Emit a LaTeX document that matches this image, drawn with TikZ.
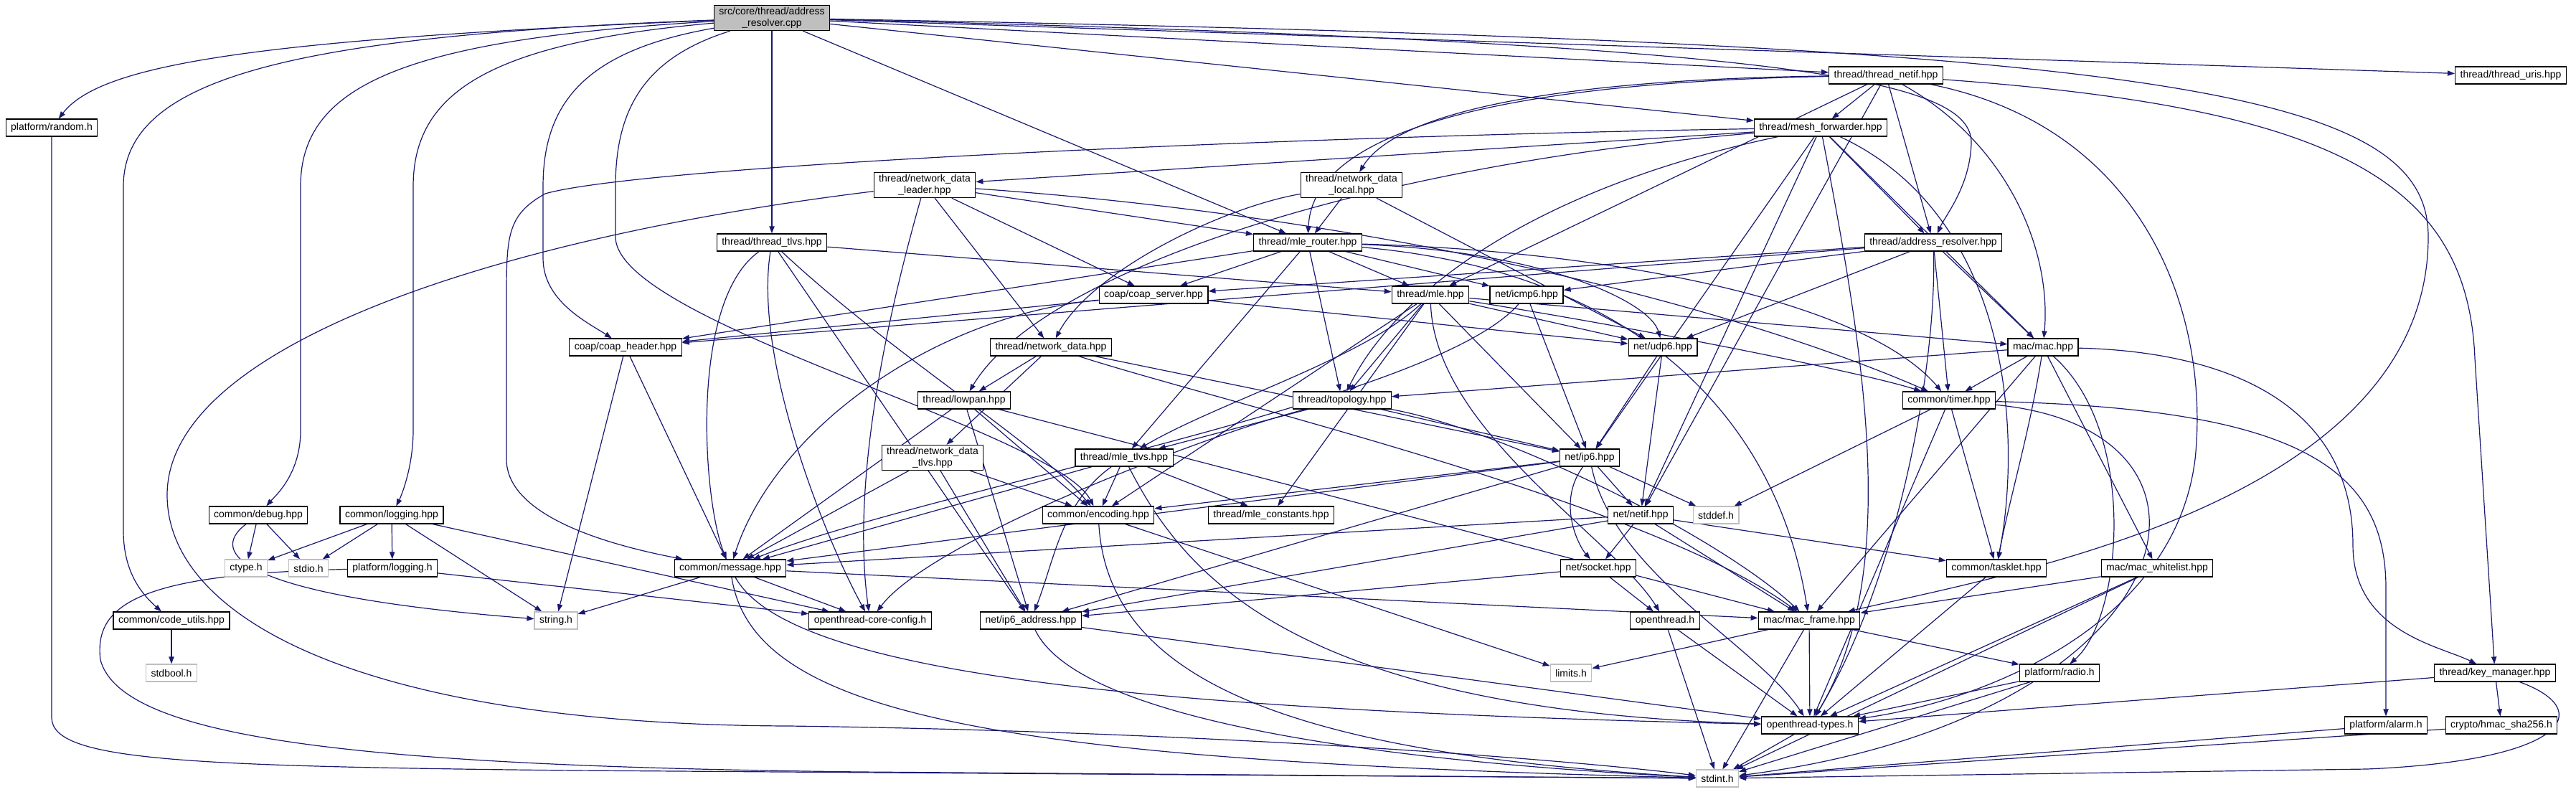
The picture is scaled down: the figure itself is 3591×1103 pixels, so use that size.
\documentclass[tikz,border=0pt]{standalone}
\usepackage{fontspec}
\setmainfont{Liberation Sans}
\usetikzlibrary{arrows.meta}
\definecolor{edgeblue}{HTML}{191970}
\pgfdeclarelayer{edges}
\pgfsetlayers{edges,main}
\begin{document}
\begin{tikzpicture}[
    x=0.5pt, y=-0.5pt,
    box/.style={rectangle, draw=black, line width=0.6pt, fill=white, align=center, inner xsep=3.5pt, inner ysep=1.5pt, minimum height=12pt, font=\fontsize{7}{8}\selectfont},
    sysbox/.style={box, draw=gray!50},
    arrow/.style={-{Triangle[length=5pt,width=3.6pt]}, draw=edgeblue, fill=none, line width=0.6pt}
]
\useasboundingbox (0,0) rectangle (3591,1103);

% File being documented
\node[box, fill=gray!50] (root) at (1076,25) {src/core/thread/address\\\_resolver.cpp};

% Thread layer
\node[box] (random) at (72,178) {platform/random.h};
\node[box] (netifth) at (2629,105) {thread/thread\_netif.hpp};
\node[box] (uris) at (3500,105) {thread/thread\_uris.hpp};
\node[box] (meshfwd) at (2538,178) {thread/mesh\_forwarder.hpp};
\node[box] (ndleader) at (1289,258) {thread/network\_data\\\_leader.hpp};
\node[box] (ndlocal) at (1884,258) {thread/network\_data\\\_local.hpp};
\node[box] (threadtlvs) at (1076,338) {thread/thread\_tlvs.hpp};
\node[box] (mlerouter) at (1823,338) {thread/mle\_router.hpp};
\node[box] (addrres) at (2695,338) {thread/address\_resolver.hpp};
\node[box] (coapserver) at (1608,411) {coap/coap\_server.hpp};
\node[box] (mle) at (1994,411) {thread/mle.hpp};
\node[box] (icmp) at (2128,411) {net/icmp6.hpp};
\node[box] (coapheader) at (872,484) {coap/coap\_header.hpp};
\node[box] (netdata) at (1465,484) {thread/network\_data.hpp};
\node[box] (udp) at (2318,484) {net/udp6.hpp};
\node[box] (mac) at (2848,484) {mac/mac.hpp};
\node[box] (lowpan) at (1344,558) {thread/lowpan.hpp};
\node[box] (topology) at (1871,558) {thread/topology.hpp};
\node[box] (timer) at (2717,558) {common/timer.hpp};
\node[box] (ndtlvs) at (1300,638) {thread/network\_data\\\_tlvs.hpp};
\node[box] (mletlvs) at (1567,638) {thread/mle\_tlvs.hpp};
\node[box] (ip6) at (2216,638) {net/ip6.hpp};

% Common layer
\node[box] (debug) at (360,718) {common/debug.hpp};
\node[box] (logging) at (546,718) {common/logging.hpp};
\node[box] (encoding) at (1531,718) {common/encoding.hpp};
\node[box] (mleconst) at (1772,718) {thread/mle\_constants.hpp};
\node[box] (netif) at (2287,718) {net/netif.hpp};
\node[sysbox] (stddef) at (2392,718) {stddef.h};
\node[sysbox] (ctype) at (343,792) {ctype.h};
\node[sysbox] (stdio) at (430,792) {stdio.h};
\node[box] (platlog) at (547,792) {platform/logging.h};
\node[box] (message) at (1018,792) {common/message.hpp};
\node[box] (socket) at (2228,792) {net/socket.hpp};
\node[box] (tasklet) at (2783,792) {common/tasklet.hpp};
\node[box] (whitelist) at (3007,792) {mac/mac\_whitelist.hpp};
\node[box] (codeutils) at (239,865) {common/code\_utils.hpp};
\node[sysbox] (string) at (775,865) {string.h};
\node[box] (coreconfig) at (1213,865) {openthread-core-config.h};
\node[box] (ip6addr) at (1437,865) {net/ip6\_address.hpp};
\node[box] (othread) at (2321,865) {openthread.h};
\node[box] (macframe) at (2522,865) {mac/mac\_frame.hpp};

% Bottom rows
\node[sysbox] (stdbool) at (239,938) {stdbool.h};
\node[sysbox] (limits) at (2190,938) {limits.h};
\node[box] (radio) at (2871,938) {platform/radio.h};
\node[box] (keymgr) at (3478,938) {thread/key\_manager.hpp};
\node[box] (types) at (2523,1011) {openthread-types.h};
\node[box] (alarm) at (3326,1011) {platform/alarm.h};
\node[box] (hmac) at (3487,1011) {crypto/hmac\_sha256.h};
\node[sysbox] (stdint) at (2394,1085) {stdint.h};

\begin{pgfonlayer}{edges}
% Root includes
\draw[arrow] (root) .. controls (350,55) and (140,90) .. (random);
\draw[arrow] (root) .. controls (400,50) and (172,110) .. (172,260) -- (172,740) .. controls (172,800) and (200,830) .. (codeutils);
\draw[arrow] (root) .. controls (560,55) and (419,120) .. (419,260) -- (419,600) .. controls (419,660) and (385,690) .. (debug);
\draw[arrow] (root) .. controls (680,60) and (576,130) .. (576,260) -- (576,600) .. controls (576,650) and (560,690) .. (logging);
\draw[arrow] (root) .. controls (820,70) and (757,140) .. (757,260) -- (757,360) .. controls (757,420) and (820,450) .. (coapheader);
\draw[arrow] (root) .. controls (900,80) and (858,150) .. (858,260) -- (858,330) .. controls (858,450) and (1470,600) .. (encoding);
\draw[arrow] (root) -- (threadtlvs);
\draw[arrow] (root) -- (mlerouter);
\draw[arrow] (root) -- (meshfwd);
\draw[arrow] (root) -- (netifth);
\draw[arrow] (root) -- (uris);
\draw[arrow] (root) .. controls (2500,60) and (2750,110) .. (2748,200) .. controls (2746,260) and (2712,300) .. (addrres);
\draw[arrow] (root) .. controls (3000,60) and (3385,120) .. (3385,330) .. controls (3385,700) and (2800,800) .. (macframe);

% thread_netif.hpp
\draw[arrow] (netifth) -- (meshfwd);
\draw[arrow] (netifth) -- (addrres);
\draw[arrow] (netifth) .. controls (2200,110) and (1950,150) .. (ndlocal);
\draw[arrow] (netifth) .. controls (2100,115) and (1830,180) .. (mlerouter);
\draw[arrow] (netifth) -- (mle);
\draw[arrow] (netifth) .. controls (2800,200) and (2860,350) .. (mac);
\draw[arrow] (netifth) -- (netif);
\draw[arrow] (netifth) .. controls (3250,150) and (3440,250) .. (3450,500) -- (keymgr);
\draw[arrow] (netifth) .. controls (3000,180) and (3080,450) .. (3060,640) .. controls (3030,880) and (2750,980) .. (types);

% mesh_forwarder.hpp
\draw[arrow] (meshfwd) -- (ndleader);
\draw[arrow] (meshfwd) .. controls (1800,190) and (900,230) .. (760,270) .. controls (706,300) and (706,330) .. (706,420) -- (706,640) .. controls (706,720) and (850,760) .. (message);
\draw[arrow] (meshfwd) .. controls (1900,230) and (1450,380) .. (lowpan);
\draw[arrow] (meshfwd) .. controls (2150,260) and (1950,400) .. (topology);
\draw[arrow] (meshfwd) -- (ip6);
\draw[arrow] (meshfwd) -- (netif);
\draw[arrow] (meshfwd) -- (addrres);
\draw[arrow] (meshfwd) -- (mac);
\draw[arrow] (meshfwd) .. controls (2800,300) and (2820,600) .. (tasklet);
\draw[arrow] (meshfwd) .. controls (2600,500) and (2650,800) .. (types);

% network_data_leader.hpp
\draw[arrow] (ndleader) .. controls (700,330) and (233,480) .. (233,690) .. controls (233,860) and (500,1010) .. (1100,1012) .. controls (1700,1020) and (2200,1060) .. (stdint);
\draw[arrow] (ndleader) .. controls (1220,500) and (1190,700) .. (coreconfig);
\draw[arrow] (ndleader) -- (netdata);
\draw[arrow] (ndleader) -- (coapserver);
\draw[arrow] (ndleader) -- (mlerouter);
\draw[arrow] (ndleader) .. controls (1900,300) and (2400,420) .. (timer);

% network_data_local.hpp
\draw[arrow] (ndlocal) -- (mlerouter);
\draw[arrow] (ndlocal) .. controls (1700,290) and (1520,380) .. (netdata);
\draw[arrow] (ndlocal) -- (udp);

% thread_tlvs.hpp
\draw[arrow] (threadtlvs) .. controls (960,420) and (980,700) .. (message);
\draw[arrow] (threadtlvs) .. controls (1050,500) and (1150,750) .. (coreconfig);
\draw[arrow] (threadtlvs) -- (ip6addr);
\draw[arrow] (threadtlvs) .. controls (1250,500) and (1450,620) .. (encoding);
\draw[arrow] (threadtlvs) -- (mle);

% mle_router.hpp
\draw[arrow] (mlerouter) -- (coapserver);
\draw[arrow] (mlerouter) -- (coapheader);
\draw[arrow] (mlerouter) -- (mle);
\draw[arrow] (mlerouter) -- (icmp);
\draw[arrow] (mlerouter) .. controls (2150,350) and (2300,420) .. (udp);
\draw[arrow] (mlerouter) -- (topology);
\draw[arrow] (mlerouter) -- (mletlvs);
\draw[arrow] (mlerouter) .. controls (2250,350) and (2600,420) .. (timer);
\draw[arrow] (mlerouter) .. controls (2300,380) and (2480,600) .. (macframe);

% address_resolver.hpp
\draw[arrow] (addrres) -- (coapserver);
\draw[arrow] (addrres) -- (coapheader);
\draw[arrow] (addrres) -- (icmp);
\draw[arrow] (addrres) -- (udp);
\draw[arrow] (addrres) -- (mac);
\draw[arrow] (addrres) -- (timer);
\draw[arrow] (addrres) .. controls (2700,500) and (2650,800) .. (types);

% coap_server.hpp
\draw[arrow] (coapserver) -- (coapheader);
\draw[arrow] (coapserver) -- (udp);
\draw[arrow] (coapserver) .. controls (1300,440) and (1080,600) .. (message);

% mle.hpp
\draw[arrow] (mle) -- (topology);
\draw[arrow] (mle) .. controls (1900,500) and (1700,560) .. (mletlvs);
\draw[arrow] (mle) -- (encoding);
\draw[arrow] (mle) -- (udp);
\draw[arrow] (mle) -- (mac);
\draw[arrow] (mle) -- (mleconst);
\draw[arrow] (mle) -- (ip6);
\draw[arrow] (mle) .. controls (2000,600) and (2250,750) .. (othread);
\draw[arrow] (mle) .. controls (2300,460) and (2600,520) .. (timer);

% icmp6.hpp
\draw[arrow] (icmp) -- (ip6);
\draw[arrow] (icmp) .. controls (2000,560) and (1300,680) .. (message);

% coap_header.hpp
\draw[arrow] (coapheader) -- (message);
\draw[arrow] (coapheader) -- (string);

% network_data.hpp
\draw[arrow] (netdata) -- (lowpan);
\draw[arrow] (netdata) -- (ndtlvs);
\draw[arrow] (netdata) -- (ip6);
\draw[arrow] (netdata) .. controls (1700,560) and (2300,700) .. (macframe);

% udp6.hpp
\draw[arrow] (udp) -- (ip6);
\draw[arrow] (udp) -- (netif);

% mac.hpp
\draw[arrow] (mac) -- (topology);
\draw[arrow] (mac) -- (timer);
\draw[arrow] (mac) .. controls (2830,600) and (2800,700) .. (tasklet);
\draw[arrow] (mac) -- (whitelist);
\draw[arrow] (mac) -- (macframe);
\draw[arrow] (mac) .. controls (2980,600) and (2960,860) .. (radio);
\draw[arrow] (mac) .. controls (3100,490) and (3280,560) .. (3280,760) .. controls (3280,880) and (3400,900) .. (keymgr);

% lowpan.hpp
\draw[arrow] (lowpan) -- (message);
\draw[arrow] (lowpan) -- (ip6addr);
\draw[arrow] (lowpan) -- (macframe);
\draw[arrow] (lowpan) -- (encoding);

% topology.hpp
\draw[arrow] (topology) -- (mletlvs);
\draw[arrow] (topology) -- (ip6);
\draw[arrow] (topology) .. controls (2100,600) and (2400,750) .. (macframe);
\draw[arrow] (topology) .. controls (1700,600) and (1300,750) .. (coreconfig);

% timer.hpp
\draw[arrow] (timer) -- (tasklet);
\draw[arrow] (timer) -- (types);
\draw[arrow] (timer) .. controls (3150,600) and (3050,1000) .. (stdint);
\draw[arrow] (timer) .. controls (3200,570) and (3326,650) .. (3326,820) -- (alarm);
\draw[arrow] (timer) -- (stddef);

% network_data_tlvs.hpp, mle_tlvs.hpp
\draw[arrow] (ndtlvs) -- (encoding);
\draw[arrow] (ndtlvs) -- (ip6addr);
\draw[arrow] (ndtlvs) -- (message);
\draw[arrow] (mletlvs) -- (encoding);
\draw[arrow] (mletlvs) -- (mleconst);
\draw[arrow] (mletlvs) -- (message);
\draw[arrow] (mletlvs) .. controls (1480,700) and (1470,780) .. (ip6addr);
\draw[arrow] (mletlvs) .. controls (1650,800) and (1800,990) .. (types);

% ip6.hpp
\draw[arrow] (ip6) -- (netif);
\draw[arrow] (ip6) .. controls (2170,700) and (2200,760) .. (socket);
\draw[arrow] (ip6) -- (stddef);
\draw[arrow] (ip6) -- (encoding);
\draw[arrow] (ip6) -- (message);
\draw[arrow] (ip6) -- (ip6addr);
\draw[arrow] (ip6) .. controls (2250,800) and (2450,900) .. (types);

% debug.hpp, logging.hpp
\draw[arrow] (debug) -- (ctype);
\draw[arrow] (debug) -- (stdio);
\draw[arrow] (debug) .. controls (290,770) and (330,830) .. (string);
\draw[arrow] (logging) -- (ctype);
\draw[arrow] (logging) -- (stdio);
\draw[arrow] (logging) -- (platlog);
\draw[arrow] (logging) -- (string);
\draw[arrow] (logging) -- (coreconfig);
\draw[arrow] (platlog) -- (coreconfig);
\draw[arrow] (platlog) .. controls (200,800) and (130,840) .. (140,920) .. controls (170,1030) and (500,1068) .. (1200,1076) -- (stdint);

% encoding.hpp, netif.hpp, message.hpp
\draw[arrow] (encoding) -- (limits);
\draw[arrow] (encoding) .. controls (1545,950) and (1800,1050) .. (stdint);
\draw[arrow] (netif) -- (message);
\draw[arrow] (netif) -- (socket);
\draw[arrow] (netif) -- (macframe);
\draw[arrow] (netif) -- (ip6addr);
\draw[arrow] (netif) -- (tasklet);
\draw[arrow] (message) -- (coreconfig);
\draw[arrow] (message) -- (string);
\draw[arrow] (message) -- (macframe);
\draw[arrow] (message) .. controls (1050,1000) and (1400,1060) .. (stdint);
\draw[arrow] (message) .. controls (1100,940) and (1600,990) .. (types);

% Leaves
\draw[arrow] (socket) -- (othread);
\draw[arrow] (socket) -- (ip6addr);
\draw[arrow] (tasklet) -- (types);
\draw[arrow] (whitelist) -- (macframe);
\draw[arrow] (whitelist) -- (types);
\draw[arrow] (whitelist) -- (stdint);
\draw[arrow] (codeutils) -- (stdbool);
\draw[arrow] (ip6addr) -- (types);
\draw[arrow] (ip6addr) .. controls (1500,1000) and (1900,1060) .. (stdint);
\draw[arrow] (othread) -- (types);
\draw[arrow] (othread) -- (stdint);
\draw[arrow] (macframe) -- (limits);
\draw[arrow] (macframe) -- (types);
\draw[arrow] (macframe) -- (stdint);
\draw[arrow] (macframe) -- (radio);
\draw[arrow] (random) -- (72,1000) .. controls (72,1060) and (250,1068) .. (800,1074) -- (stdint);
\draw[arrow] (radio) -- (types);
\draw[arrow] (radio) -- (stdint);
\draw[arrow] (keymgr) -- (hmac);
\draw[arrow] (keymgr) -- (types);
\draw[arrow] (keymgr) .. controls (3620,990) and (3580,1060) .. (3300,1072) -- (stdint);
\draw[arrow] (alarm) -- (stdint);
\draw[arrow] (hmac) -- (stdint);
\draw[arrow] (types) -- (stdint);
\end{pgfonlayer}

\end{tikzpicture}
\end{document}
